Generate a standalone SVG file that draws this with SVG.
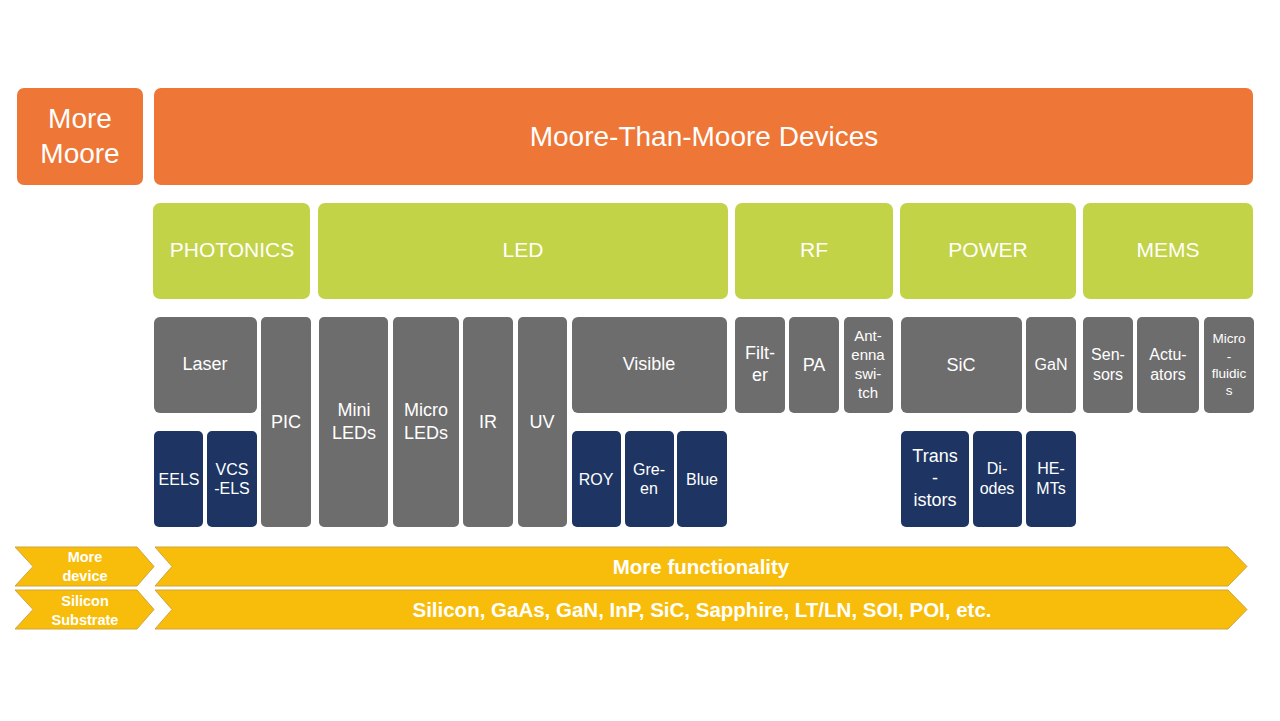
<svg xmlns="http://www.w3.org/2000/svg" width="1280" height="721" viewBox="0 0 1280 721">
<style>
.or{fill:#EE7636}
.gr{fill:#C3D348}
.gy{fill:#6D6D6D}
.nv{fill:#1E3563}
.ar{fill:#F8BD0A;stroke:#CFA43A;stroke-width:1}
text{font-family:"Liberation Sans",Arial,sans-serif;fill:#fff;text-anchor:middle}
.t28{font-size:28px}
.t21{font-size:21px}
.t18{font-size:18px}
.t16{font-size:16px}
.t15{font-size:15px}
.t13{font-size:13.5px}
.t14b{font-size:14.5px;font-weight:bold}
.big{font-size:20.5px;font-weight:bold}
</style>
<rect width="1280" height="721" fill="#fff"/>
<g id="more-moore"><rect class="or" x="17" y="88" width="126" height="97" rx="7"/><text class="t28" x="80" y="128">More</text><text class="t28" x="80" y="163">Moore</text></g>
<g id="mtm"><rect class="or" x="154" y="88" width="1099" height="97" rx="7"/><text class="t28" x="704" y="146">Moore-Than-Moore Devices</text></g>

<g id="photonics"><rect class="gr" x="153" y="203" width="157" height="96" rx="7"/><text class="t21" x="232" y="257">PHOTONICS</text></g>
<g id="led"><rect class="gr" x="318" y="203" width="410" height="96" rx="7"/><text class="t21" x="523" y="257">LED</text></g>
<g id="rf"><rect class="gr" x="735" y="203" width="158" height="96" rx="7"/><text class="t21" x="814" y="257">RF</text></g>
<g id="power"><rect class="gr" x="900" y="203" width="176" height="96" rx="7"/><text class="t21" x="988" y="257">POWER</text></g>
<g id="mems"><rect class="gr" x="1083" y="203" width="170" height="96" rx="7"/><text class="t21" x="1168" y="257">MEMS</text></g>

<g id="laser"><rect class="gy" x="154" y="317" width="103" height="96" rx="6"/><text class="t18" x="205" y="370">Laser</text></g>
<g id="pic"><rect class="gy" x="261" y="317" width="50" height="210" rx="5"/><text class="t18" x="286" y="428">PIC</text></g>
<g id="eels"><rect class="nv" x="154" y="431" width="49" height="96" rx="5"/><text class="t16" x="179" y="485">EELS</text></g>
<g id="vcsels"><rect class="nv" x="207" y="431" width="50" height="96" rx="5"/><text class="t16" x="232" y="475">VCS</text><text class="t16" x="232" y="494">-ELS</text></g>
<g id="mini"><rect class="gy" x="319" y="317" width="69" height="210" rx="5"/><text class="t18" x="354" y="416">Mini</text><text class="t18" x="354" y="439">LEDs</text></g>
<g id="micro"><rect class="gy" x="393" y="317" width="66" height="210" rx="5"/><text class="t18" x="426" y="416">Micro</text><text class="t18" x="426" y="439">LEDs</text></g>
<g id="ir"><rect class="gy" x="463" y="317" width="50" height="210" rx="5"/><text class="t18" x="488" y="428">IR</text></g>
<g id="uv"><rect class="gy" x="518" y="317" width="49" height="210" rx="5"/><text class="t18" x="542" y="428">UV</text></g>
<g id="visible"><rect class="gy" x="572" y="317" width="155" height="96" rx="6"/><text class="t18" x="649" y="370">Visible</text></g>
<g id="roy"><rect class="nv" x="572" y="431" width="49" height="96" rx="5"/><text class="t16" x="596" y="485">ROY</text></g>
<g id="green"><rect class="nv" x="625" y="431" width="49" height="96" rx="5"/><text class="t16" x="649" y="475">Gre-</text><text class="t16" x="649" y="494">en</text></g>
<g id="blue"><rect class="nv" x="677" y="431" width="50" height="96" rx="5"/><text class="t16" x="702" y="485">Blue</text></g>
<g id="filter"><rect class="gy" x="735" y="317" width="50" height="96" rx="5"/><text class="t18" x="760" y="359">Filt-</text><text class="t18" x="760" y="381">er</text></g>
<g id="pa"><rect class="gy" x="789" y="317" width="50" height="96" rx="5"/><text class="t18" x="814" y="371">PA</text></g>
<g id="antenna"><rect class="gy" x="844" y="317" width="49" height="96" rx="5"/><text class="t15" x="868" y="341">Ant-</text><text class="t15" x="868" y="360">enna</text><text class="t15" x="868" y="379">swi-</text><text class="t15" x="868" y="398">tch</text></g>
<g id="sic"><rect class="gy" x="901" y="317" width="121" height="96" rx="6"/><text class="t18" x="961" y="371">SiC</text></g>
<g id="gan"><rect class="gy" x="1026" y="317" width="50" height="96" rx="5"/><text class="t16" x="1051" y="370">GaN</text></g>
<g id="sensors"><rect class="gy" x="1083" y="317" width="50" height="96" rx="5"/><text class="t16" x="1108" y="360">Sen-</text><text class="t16" x="1108" y="380">sors</text></g>
<g id="actuators"><rect class="gy" x="1137" y="317" width="62" height="96" rx="5"/><text class="t16" x="1168" y="360">Actu-</text><text class="t16" x="1168" y="380">ators</text></g>
<g id="microfluidics"><rect class="gy" x="1204" y="317" width="50" height="96" rx="5"/><text class="t13" x="1229" y="343">Micro</text><text class="t13" x="1229" y="361">-</text><text class="t13" x="1229" y="378">fluidic</text><text class="t13" x="1229" y="395">s</text></g>
<g id="transistors"><rect class="nv" x="901" y="431" width="68" height="96" rx="5"/><text class="t18" x="935" y="462">Trans</text><text class="t18" x="935" y="484">-</text><text class="t18" x="935" y="506">istors</text></g>
<g id="diodes"><rect class="nv" x="973" y="431" width="49" height="96" rx="5"/><text class="t16" x="997" y="474">Di-</text><text class="t16" x="997" y="494">odes</text></g>
<g id="hemts"><rect class="nv" x="1026" y="431" width="50" height="96" rx="5"/><text class="t16" x="1051" y="474">HE-</text><text class="t16" x="1051" y="494">MTs</text></g>

<g id="more-device"><polygon class="ar" points="15,547 137,547 154,566.5 137,586 15,586 33,566.5"/><text class="t14b" x="85" y="562">More</text><text class="t14b" x="85" y="581">device</text></g>
<g id="more-functionality"><polygon class="ar" points="155,547 1228,547 1247,566.5 1228,586 155,586 172,566.5"/><text class="big" x="701" y="574">More functionality</text></g>
<g id="silicon-substrate"><polygon class="ar" points="15,590 137,590 154,609.5 137,629 15,629 33,609.5"/><text class="t14b" x="85" y="606">Silicon</text><text class="t14b" x="85" y="625">Substrate</text></g>
<g id="materials"><polygon class="ar" points="155,590 1228,590 1247,609.5 1228,629 155,629 172,609.5"/><text class="big" x="702" y="617">Silicon, GaAs, GaN, InP, SiC, Sapphire, LT/LN, SOI, POI, etc.</text></g>
</svg>
